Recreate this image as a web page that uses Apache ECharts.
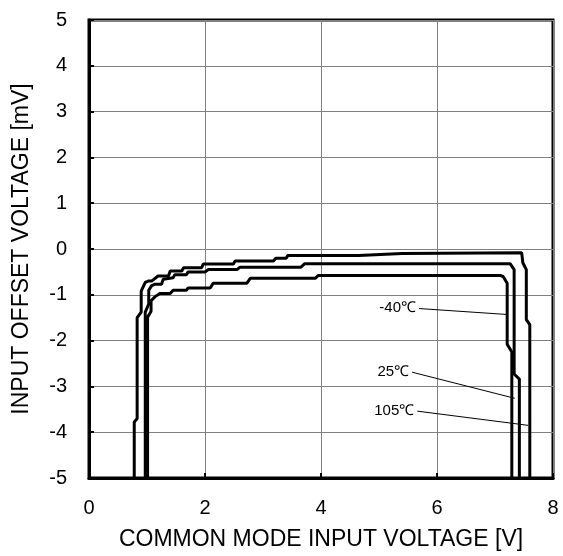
<!DOCTYPE html>
<html>
<head>
<meta charset="utf-8">
<title>Input offset voltage vs common mode input voltage</title>
<script src="https://cdn.jsdelivr.net/npm/echarts@6/dist/echarts.min.js"></script>
<style>
  html, body { margin: 0; padding: 0; background: #fff; }
  #charts { width: 563px; height: 556px; }
</style>
</head>
<body>
<div id="charts"></div>
<script>
  // corner points of each trace, [common mode V, offset mV]
  var curve105 = [
    [0.78, -5], [0.78, -3.78], [0.83, -3.7], [0.83, -1.5], [0.9, -1.38], [0.9, -0.92],
    [0.97, -0.73], [1.02, -0.7], [1.08, -0.7], [1.19, -0.59], [1.37, -0.59], [1.4, -0.48],
    [1.6, -0.48], [1.63, -0.41], [1.94, -0.41], [1.97, -0.33], [2.49, -0.33], [2.52, -0.26],
    [3.18, -0.26], [3.22, -0.2], [3.4, -0.2], [3.43, -0.14], [4.65, -0.14], [4.68, -0.1],
    [5.4, -0.1], [5.43, -0.08], [7.46, -0.08], [7.48, -0.3], [7.54, -0.45], [7.54, -1.54],
    [7.6, -1.65], [7.6, -5]
  ];
  var curve25 = [
    [0.97, -5], [0.97, -1.38], [1.03, -1.2], [1.03, -0.9], [1.08, -0.8], [1.14, -0.77],
    [1.25, -0.77], [1.28, -0.66], [1.45, -0.63], [1.48, -0.56], [1.68, -0.56], [1.71, -0.5],
    [2.0, -0.5], [2.06, -0.45], [2.55, -0.45], [2.6, -0.4], [3.65, -0.4], [3.72, -0.32],
    [7.26, -0.32], [7.33, -0.45], [7.33, -2.73], [7.42, -2.84], [7.42, -5]
  ];
  var curveM40 = [
    [1.01, -5], [1.01, -1.49], [1.07, -1.36], [1.07, -1.13], [1.14, -1.04], [1.22, -0.97],
    [1.4, -0.97], [1.45, -0.9], [1.68, -0.9], [1.71, -0.85], [2.09, -0.85], [2.14, -0.75],
    [2.72, -0.75], [2.78, -0.64], [3.9, -0.64], [3.95, -0.58], [7.1, -0.58], [7.14, -0.6],
    [7.21, -0.75], [7.21, -2.08], [7.29, -2.25], [7.29, -5]
  ];
  var seriesNames = ['-40℃', '25℃', '105℃'];
  // leader lines: [label end, curve end]
  var leaderM40 = [[5.69, -1.3], [7.21, -1.43]];
  var leader25 = [[5.57, -2.69], [7.34, -3.26]];
  var leader105 = [[5.66, -3.54], [7.57, -3.85]];

  var font = '"Liberation Sans", Arial, sans-serif';

  function trace(name, pts, leader) {
    return {
      name: name,
      type: 'line',
      data: pts,
      showSymbol: false,
      lineStyle: { color: '#000', width: 3 },
      itemStyle: { color: '#000' },
      z: 5,
      markLine: {
        silent: true,
        symbol: 'none',
        lineStyle: { color: '#000', width: 1, type: 'solid' },
        label: {
          show: true,
          position: 'start',
          distance: 3,
          formatter: name,
          color: '#000',
          fontSize: 15,
          fontFamily: font
        },
        data: [[{ coord: leader[0] }, { coord: leader[1] }]]
      }
    };
  }

  var option = {
    animation: false,
    backgroundColor: '#fff',
    grid: {
      left: 89, right: 10, top: 20, bottom: 77,
      show: true, borderColor: '#000', borderWidth: 3
    },
    xAxis: {
      type: 'value', min: 0, max: 8, interval: 2,
      name: 'COMMON MODE INPUT VOLTAGE [V]',
      nameLocation: 'middle', nameGap: 50,
      nameTextStyle: { color: '#000', fontSize: 23, fontFamily: font },
      axisLine: { show: true, onZero: false, lineStyle: { color: '#000', width: 3 } },
      axisTick: { show: true, inside: true, length: 5, lineStyle: { color: '#000', width: 2 } },
      axisLabel: { color: '#000', fontSize: 20, fontFamily: font, margin: 20 },
      splitLine: { show: true, lineStyle: { color: '#808080', width: 1 } }
    },
    yAxis: {
      type: 'value', min: -5, max: 5, interval: 1,
      name: 'INPUT OFFSET VOLTAGE [mV]',
      nameLocation: 'middle', nameGap: 56,
      nameTextStyle: { color: '#000', fontSize: 23, fontFamily: font },
      axisLine: { show: true, onZero: false, lineStyle: { color: '#000', width: 3 } },
      axisTick: { show: true, inside: true, length: 5, lineStyle: { color: '#000', width: 2 } },
      axisLabel: { color: '#000', fontSize: 20, fontFamily: font, margin: 22 },
      splitLine: { show: true, lineStyle: { color: '#808080', width: 1 } }
    },
    series: [
      trace(seriesNames[0], curveM40, leaderM40),
      trace(seriesNames[1], curve25, leader25),
      trace(seriesNames[2], curve105, leader105)
    ]
  };

  var myChart = echarts.init(document.getElementById('charts'));
  myChart.setOption(option);
</script>
</body>
</html>
